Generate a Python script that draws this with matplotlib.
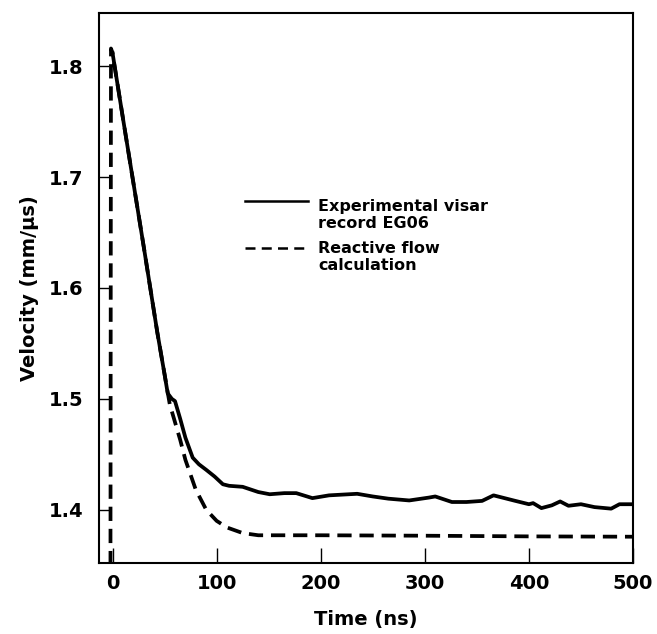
import matplotlib
matplotlib.use("Agg")
import matplotlib.pyplot as plt

plt.rcParams['font.family'] = ['DejaVu Sans']
plt.rcParams['font.weight'] = 'bold'

# Experimental visar record EG06
exp_t = [0, 2, 10, 20, 30, 43, 50, 53, 57, 60, 65, 70, 77, 83, 90, 98, 106,
         112, 125, 140, 151, 165, 176.5, 192, 208, 235, 250, 265, 285, 304,
         310, 326, 340, 355, 366, 387, 400, 404, 412, 422, 430, 438, 450,
         463, 479, 487, 497, 500]
exp_v = [1.812, 1.800, 1.753, 1.695, 1.637, 1.560, 1.522, 1.505, 1.500,
         1.498, 1.482, 1.465, 1.447, 1.441, 1.436, 1.430, 1.423, 1.4216,
         1.4207, 1.416, 1.414, 1.415, 1.415, 1.4105, 1.413, 1.4144, 1.412,
         1.410, 1.4084, 1.411, 1.412, 1.407, 1.407, 1.408, 1.413, 1.408,
         1.405, 1.406, 1.4015, 1.404, 1.4075, 1.4036, 1.405, 1.4024, 1.401,
         1.405, 1.405, 1.405]

# Reactive flow calculation
calc_t = [-2, -1.5, 0, 2, 10, 20, 30, 43, 50, 55, 65, 70, 80, 90, 100, 110,
          125, 140, 200, 300, 400, 500]
calc_v = [1.35, 1.816, 1.812, 1.800, 1.753, 1.695, 1.637, 1.560, 1.522,
          1.495, 1.463, 1.445, 1.418, 1.400, 1.390, 1.384, 1.379, 1.377,
          1.377, 1.3766, 1.376, 1.3757]

fig = plt.figure(figsize=(6.57, 6.34), dpi=100)
ax = fig.add_axes([0.1507, 0.112, 0.8128, 0.8675])

ax.plot(exp_t, exp_v, color='black', lw=2.7, solid_joinstyle='round')
ax.plot(calc_t, calc_v, color='black', lw=2.7, dashes=(3.8, 2.1))

ax.set_xlim(-13, 500)
ax.set_ylim(1.352, 1.848)
ax.set_xticks([0, 100, 200, 300, 400, 500])
ax.set_yticks([1.4, 1.5, 1.6, 1.7, 1.8])
ax.set_yticklabels(['1.4', '1.5', '1.6', '1.7', '1.8'])

ax.tick_params(direction='in', labelsize=14, width=1.0)
ax.tick_params(axis='x', length=11, pad=8)
ax.tick_params(axis='y', length=7, pad=11)
for s in ax.spines.values():
    s.set_linewidth(1.5)

ax.set_xlabel('Time (ns)', fontsize=14, fontweight='bold', labelpad=12)
ax.set_ylabel('Velocity (mm/\u00b5s)', fontsize=14, fontweight='bold', labelpad=7)

# legend drawn by hand so the handle sits on the first text line
ax.plot([0.273, 0.391], [0.658, 0.658], color='black', lw=1.8,
        transform=ax.transAxes)
ax.plot([0.273, 0.391], [0.573, 0.573], color='black', lw=1.8,
        dashes=(4, 2.5), transform=ax.transAxes)
ax.text(0.410, 0.632, 'Experimental visar\nrecord EG06', transform=ax.transAxes,
        fontsize=11.5, fontweight='bold', va='center', ha='left', linespacing=1.15)
ax.text(0.410, 0.556, 'Reactive flow\ncalculation', transform=ax.transAxes,
        fontsize=11.5, fontweight='bold', va='center', ha='left', linespacing=1.15)

fig.savefig('out.png', dpi=100)
